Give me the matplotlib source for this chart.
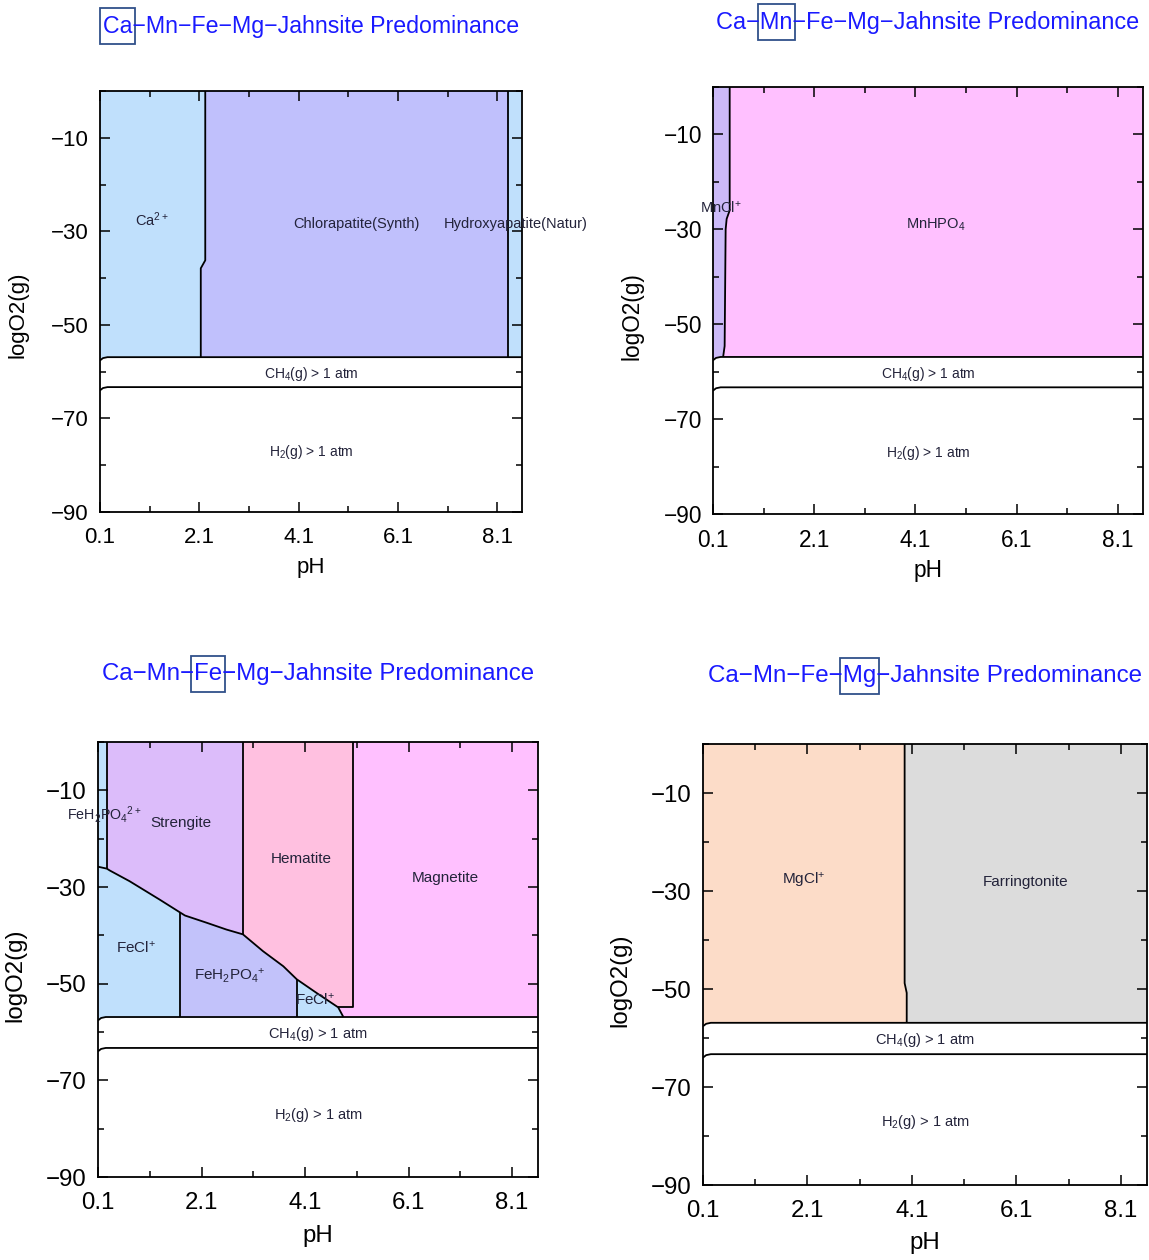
import matplotlib
matplotlib.use("Agg")
import matplotlib.pyplot as plt
from matplotlib.patches import Rectangle

plt.rcParams["font.family"] = ["Liberation Sans", "DejaVu Sans"]
plt.rcParams["mathtext.default"] = "regular"

# ---------------------------------------------------------------- axes data
PH_RANGE = (0.1, 8.6)
O2_RANGE = (-90.0, 0.0)
PH_TICKS = [0.1, 2.1, 4.1, 6.1, 8.1]
PH_MINOR = [1.1, 3.1, 5.1, 7.1]
O2_TICKS = [-90, -70, -50, -30, -10]
O2_MINOR = [-80, -60, -40, -20, 0]

# gas-stability boundaries (CH4(g) > 1 atm band and H2(g) > 1 atm field)
GAS_PH = [0.1, 0.16, 0.25, 8.6]
CH4_O2 = [-57.6, -57.1, -56.9, -56.9]
H2_O2 = [-64.0, -63.5, -63.3, -63.3]
FIELD_FLOOR = -56.9

# ---------------------------------------------------------------- Ca panel
CA_APATITE_PH = [2.22, 2.22, 2.13, 2.13]
CA_APATITE_O2 = [0.0, -36.2, -37.9, -56.9]
APATITE_SPLIT_PH = 8.32

# ---------------------------------------------------------------- Mn panel
MNCL_PH = [0.43, 0.43, 0.37, 0.35, 0.33, 0.30]
MNCL_O2 = [0.0, -26.0, -27.8, -30.0, -54.6, -56.9]

# ---------------------------------------------------------------- Fe panel
FE_DIAG_PH = [0.27, 0.33, 0.71, 1.29, 1.69, 1.78, 2.20, 2.58, 2.90,
              3.29, 3.68, 3.94, 4.32, 4.74, 4.84]
FE_DIAG_O2 = [-26.2, -26.6, -28.8, -32.6, -35.3, -35.9, -37.4, -38.8, -39.8,
              -43.3, -46.4, -49.1, -51.9, -54.9, -56.9]
FE_STRIP_PH = 0.27
FE_STRIP_FLOOR_O2 = [-25.8, -26.2]
FEH2PO4_LEFT_PH = 1.69
HEMATITE_LEFT_PH = 2.90
HEMATITE_RIGHT_PH = 5.03
HEMATITE_FLOOR_O2 = -54.9
FECL_SMALL_LEFT_PH = 3.94

# ---------------------------------------------------------------- Mg panel
MG_SPLIT_PH = [3.96, 3.96, 4.00, 4.00]
MG_SPLIT_O2 = [0.0, -48.8, -50.8, -56.9]

# ---------------------------------------------------------------- colours
C_ION_BLUE = "#c0e0fc"
C_APATITE = "#c0c0fc"
C_PINK = "#ffc0ff"
C_MNCL = "#ccbaf8"
C_STRENGITE = "#dcbcfa"
C_HEMATITE = "#ffc0e0"
C_FEH2PO4 = "#c2c2fa"
C_MGCL = "#fcdcc8"
C_FARR = "#dcdcdc"
TITLE_BLUE = "#1a1aff"
BOX_EDGE = "#30508a"
LABEL_COLOR = "#23233a"

W, H = 1149, 1260
fig = plt.figure(figsize=(W / 100, H / 100), dpi=100)
renderer = fig.canvas.get_renderer()


def add_panel(l, t, r, b):
    return fig.add_axes([l / W, 1 - b / H, (r - l) / W, (b - t) / H])


def style(ax, box, tick_size, lab_size, ylab_px, ylab_y_px, xlab_px):
    l, t, r, b = box
    ax.set_xlim(*PH_RANGE)
    ax.set_ylim(*O2_RANGE)
    ax.set_xticks(PH_TICKS)
    ax.set_xticks(PH_MINOR, minor=True)
    ax.set_yticks(O2_TICKS)
    ax.set_yticks(O2_MINOR, minor=True)
    ax.set_xticklabels([f"{v:.1f}" for v in PH_TICKS])
    ax.tick_params(which="both", direction="in", top=True, right=True,
                   width=1.1, labelsize=tick_size, colors="black")
    ax.tick_params(axis="x", which="both", pad=11)
    ax.tick_params(axis="y", which="both", pad=8)
    ax.tick_params(which="major", length=7.5)
    ax.tick_params(which="minor", length=4.5)
    for s in ax.spines.values():
        s.set_linewidth(1.3)
    ax.set_xlabel("pH", fontsize=lab_size)
    ax.xaxis.set_label_coords(0.5, -xlab_px / (b - t))
    ax.xaxis.label.set_verticalalignment("center")
    ax.set_ylabel("logO2(g)", fontsize=lab_size)
    ax.yaxis.set_label_coords(-(l - ylab_px) / (r - l), (b - ylab_y_px) / (b - t))
    ax.yaxis.label.set_verticalalignment("center")
    ax.yaxis.label.set_horizontalalignment("center")


def region(ax, pts, color):
    xs, ys = zip(*pts)
    ax.fill(xs, ys, color=color, lw=0, zorder=1)


def line(ax, xs, ys):
    ax.plot(xs, ys, color="black", lw=1.3, zorder=3, solid_capstyle="butt")


def floor_to_left(x_from):
    # bottom edge of a field from x_from back to the left axis, following the hook
    pts = [(x_from, FIELD_FLOOR)]
    for px, py in reversed(list(zip(GAS_PH[:-1], CH4_O2[:-1]))):
        if px < x_from:
            pts.append((px, py))
    return pts


def gas_lines(ax, size):
    line(ax, GAS_PH, CH4_O2)
    line(ax, GAS_PH, H2_O2)
    ax.text(4.35, -60.5, "CH$_4$(g) > 1 atm", ha="center", va="center",
            fontsize=size, color=LABEL_COLOR, zorder=4)
    ax.text(4.35, -77.2, "H$_2$(g) > 1 atm", ha="center", va="center",
            fontsize=size, color=LABEL_COLOR, zorder=4)


def label(ax, x, y, s, size):
    ax.text(x, y, s, ha="center", va="center", fontsize=size,
            color=LABEL_COLOR, zorder=4)


def boxed_title(cx, cy, parts, idx, size):
    t = fig.text(cx / W, 1 - cy / H, "".join(parts), ha="center", va="center",
                 color=TITLE_BLUE, fontsize=size)
    bb = t.get_window_extent(renderer)

    def width(s):
        if not s:
            return 0.0
        tmp = fig.text(0, 0, s, fontsize=size)
        w = tmp.get_window_extent(renderer).width
        tmp.remove()
        return w

    x0 = bb.x0 + width("".join(parts[:idx]))
    x1 = bb.x0 + width("".join(parts[:idx + 1]))
    yc = H - cy
    rect = Rectangle(((x0 - 2.5) / W, (yc - 18) / H), (x1 - x0 + 5) / W, 36 / H,
                     transform=fig.transFigure, fill=False, ec=BOX_EDGE, lw=1.3)
    fig.add_artist(rect)


TITLE_PARTS = ["Ca", "\u2212", "Mn", "\u2212", "Fe", "\u2212", "Mg",
               "\u2212Jahnsite Predominance"]

# ================================================================ Ca panel
box1 = (100, 91, 522, 512)
ax1 = add_panel(*box1)
region(ax1, [(0.1, 0.0)] + list(zip(CA_APATITE_PH, CA_APATITE_O2))
       + floor_to_left(CA_APATITE_PH[-1])[1:], C_ION_BLUE)
region(ax1, list(zip(CA_APATITE_PH, CA_APATITE_O2))
       + [(APATITE_SPLIT_PH, FIELD_FLOOR), (APATITE_SPLIT_PH, 0.0)], C_APATITE)
region(ax1, [(APATITE_SPLIT_PH, 0.0), (8.6, 0.0), (8.6, FIELD_FLOOR),
             (APATITE_SPLIT_PH, FIELD_FLOOR)], C_ION_BLUE)
line(ax1, CA_APATITE_PH, CA_APATITE_O2)
line(ax1, [APATITE_SPLIT_PH] * 2, [0.0, FIELD_FLOOR])
gas_lines(ax1, 10)
label(ax1, 1.15, -27.5, "Ca$^{2+}$", 10.5)
label(ax1, 5.27, -28.5, "Chlorapatite(Synth)", 10.5)
label(ax1, 8.48, -28.5, "Hydroxyapatite(Natur)", 10.5)
style(ax1, box1, 16, 16, 18, 315, 56)
boxed_title(311, 26, TITLE_PARTS, 0, 16.7)

# ================================================================ Mn panel
box2 = (713, 87, 1143, 514)
ax2 = add_panel(*box2)
region(ax2, [(0.1, 0.0)] + list(zip(MNCL_PH, MNCL_O2))
       + floor_to_left(MNCL_PH[-1])[1:], C_MNCL)
region(ax2, list(zip(MNCL_PH, MNCL_O2)) + [(8.6, FIELD_FLOOR), (8.6, 0.0)], C_PINK)
line(ax2, MNCL_PH, MNCL_O2)
gas_lines(ax2, 10)
label(ax2, 0.25, -25.5, "MnCl$^{+}$", 10.5)
label(ax2, 4.5, -29.0, "MnHPO$_4$", 10.5)
style(ax2, box2, 16.3, 16.3, 632, 316, 57)
boxed_title(928, 22, TITLE_PARTS, 2, 16.9)

# ================================================================ Fe panel
box3 = (98, 742, 538, 1177)
ax3 = add_panel(*box3)
diag = list(zip(FE_DIAG_PH, FE_DIAG_O2))
i_feh2 = FE_DIAG_PH.index(FEH2PO4_LEFT_PH)
i_hem = FE_DIAG_PH.index(HEMATITE_LEFT_PH)
i_fecl = FE_DIAG_PH.index(FECL_SMALL_LEFT_PH)
i_hfloor = len(FE_DIAG_PH) - 2

region(ax3, [(0.1, 0.0), (FE_STRIP_PH, 0.0), (FE_STRIP_PH, FE_STRIP_FLOOR_O2[1]),
             (0.1, FE_STRIP_FLOOR_O2[0])], C_ION_BLUE)
region(ax3, [(FE_STRIP_PH, 0.0), (HEMATITE_LEFT_PH, 0.0)]
       + diag[:i_hem + 1][::-1], C_STRENGITE)
region(ax3, [(HEMATITE_LEFT_PH, 0.0), (HEMATITE_RIGHT_PH, 0.0),
             (HEMATITE_RIGHT_PH, HEMATITE_FLOOR_O2)]
       + diag[i_hem:i_hfloor + 1][::-1], C_HEMATITE)
region(ax3, [(HEMATITE_RIGHT_PH, 0.0), (8.6, 0.0), (8.6, FIELD_FLOOR)]
       + diag[i_hfloor:][::-1] + [(HEMATITE_RIGHT_PH, HEMATITE_FLOOR_O2)], C_PINK)
region(ax3, [(0.1, FE_STRIP_FLOOR_O2[0])] + diag[:i_feh2 + 1]
       + floor_to_left(FEH2PO4_LEFT_PH), C_ION_BLUE)
region(ax3, diag[i_feh2:i_fecl + 1] + [(FECL_SMALL_LEFT_PH, FIELD_FLOOR),
                                      (FEH2PO4_LEFT_PH, FIELD_FLOOR)], C_FEH2PO4)
region(ax3, diag[i_fecl:] + [(FECL_SMALL_LEFT_PH, FIELD_FLOOR)], C_ION_BLUE)

line(ax3, FE_DIAG_PH, FE_DIAG_O2)
line(ax3, [0.1, FE_STRIP_PH], FE_STRIP_FLOOR_O2)
line(ax3, [FE_STRIP_PH] * 2, [0.0, FE_STRIP_FLOOR_O2[1]])
line(ax3, [FEH2PO4_LEFT_PH] * 2, [FE_DIAG_O2[i_feh2], FIELD_FLOOR])
line(ax3, [HEMATITE_LEFT_PH] * 2, [0.0, FE_DIAG_O2[i_hem]])
line(ax3, [FECL_SMALL_LEFT_PH] * 2, [FE_DIAG_O2[i_fecl], FIELD_FLOOR])
line(ax3, [FE_DIAG_PH[i_hfloor], HEMATITE_RIGHT_PH, HEMATITE_RIGHT_PH],
     [HEMATITE_FLOOR_O2, HEMATITE_FLOOR_O2, 0.0])
gas_lines(ax3, 10.5)
label(ax3, 0.22, -15.0, "FeH$_2$PO$_4$$^{2+}$", 10.3)
label(ax3, 1.7, -16.8, "Strengite", 11)
label(ax3, 4.02, -24.3, "Hematite", 11)
label(ax3, 6.8, -28.2, "Magnetite", 11)
label(ax3, 0.83, -42.5, "FeCl$^{+}$", 11)
label(ax3, 2.65, -48.3, "FeH$_2$PO$_4$$^{+}$", 11)
label(ax3, 4.29, -53.3, "FeCl$^{+}$", 11)
style(ax3, box3, 17.3, 17.3, 15, 975, 59)
boxed_title(318, 674, TITLE_PARTS, 4, 17.3)

# ================================================================ Mg panel
box4 = (703, 744, 1147, 1185)
ax4 = add_panel(*box4)
region(ax4, [(0.1, 0.0)] + list(zip(MG_SPLIT_PH, MG_SPLIT_O2))
       + floor_to_left(MG_SPLIT_PH[-1])[1:], C_MGCL)
region(ax4, list(zip(MG_SPLIT_PH, MG_SPLIT_O2)) + [(8.6, FIELD_FLOOR), (8.6, 0.0)], C_FARR)
line(ax4, MG_SPLIT_PH, MG_SPLIT_O2)
gas_lines(ax4, 10.5)
label(ax4, 2.03, -27.8, "MgCl$^{+}$", 11)
label(ax4, 6.28, -28.2, "Farringtonite", 11)
style(ax4, box4, 17.3, 17.3, 620, 980, 58)
boxed_title(925, 676, TITLE_PARTS, 6, 17.4)

fig.savefig("out.png", dpi=100, facecolor="white")
